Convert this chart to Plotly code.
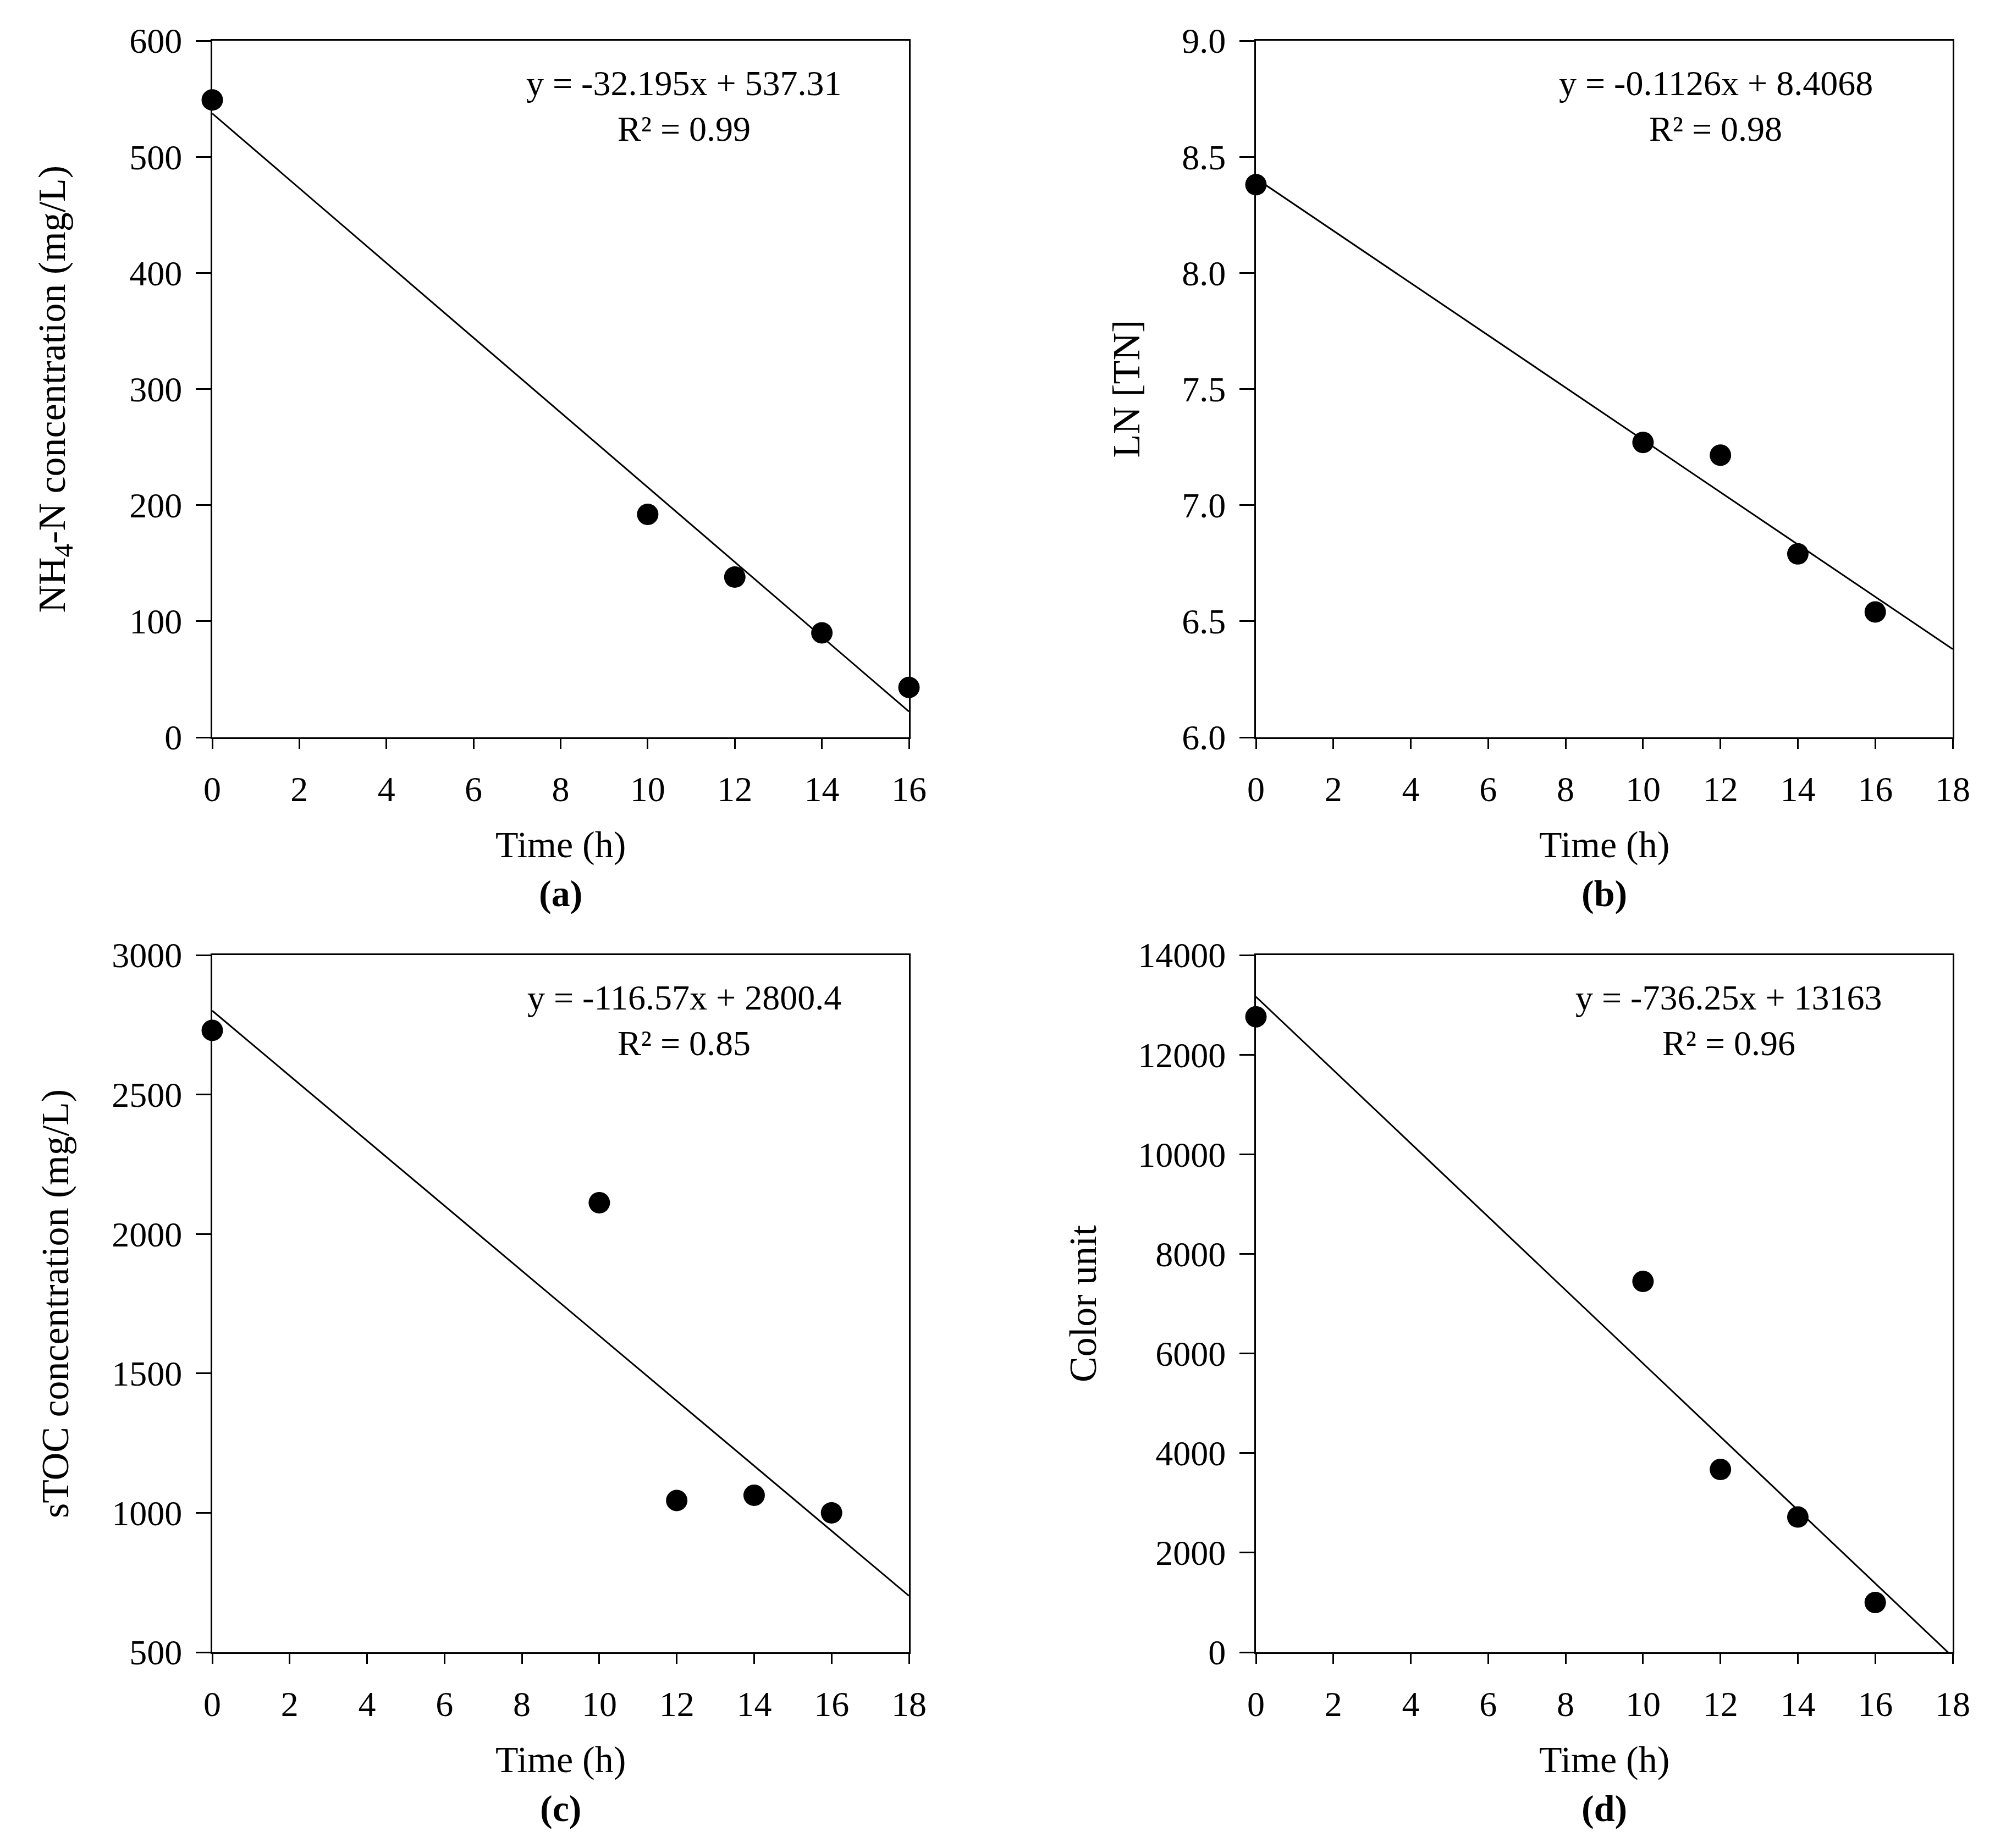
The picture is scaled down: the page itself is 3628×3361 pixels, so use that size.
import plotly.graph_objects as go

# sampling times (h)
time_a = [0, 10, 12, 14, 16]
time_bcd = [0, 10, 12, 14, 16]

nh4_n = [549, 192, 138, 90, 43]
ln_tn = [8.38, 7.27, 7.215, 6.79, 6.54]
stoc = [2730, 2112, 1044, 1063, 1000]
color_unit = [12760, 7447, 3670, 2715, 1000]

# linear trend lines (end points of the fitted lines)
fit_a_x = [0, 16]
fit_a_y = [537.31, 22.19]
fit_b_x = [0, 18]
fit_b_y = [8.4068, 6.38]
fit_c_x = [0, 18]
fit_c_y = [2800.4, 702.14]
fit_d_x = [0, 18]
fit_d_y = [13163, -89.5]

equations = ["y = -32.195x + 537.31", "y = -0.1126x + 8.4068",
             "y = -116.57x + 2800.4", "y = -736.25x + 13163"]
r_squared = ["R² = 0.99", "R² = 0.98", "R² = 0.85", "R² = 0.96"]
y_titles = ["NH<sub>4</sub>-N concentration (mg/L)", "LN [TN]",
            "sTOC concentration (mg/L)", "Color unit"]
panel_labels = ["(a)", "(b)", "(c)", "(d)"]

W = 3628
H = 3361
PAGE_MARGIN = 8  # default body margin of the html page
FONT = "Palatino Linotype, Book Antiqua, Palatino, P052, Liberation Serif, serif"
FS_NUM = 64
FS_TXT = 68
FS_YTITLE = 70

# plot areas in pixels: left, right, top, bottom
boxes = [
    (386, 1653, 74, 1341),
    (2284, 3551, 74, 1341),
    (386, 1653, 1737, 3005),
    (2284, 3551, 1737, 3005),
]
x_ranges = [[0, 16], [0, 18], [0, 18], [0, 18]]
y_ranges = [[0, 600], [6, 9], [500, 3000], [0, 14000]]
y_dticks = [100, 0.5, 500, 2000]
y_formats = ["d", ".1f", "d", "d"]
y_title_x = [100, 2048, 100, 1969]
eq_x = [1244, 3120, 1244, 3144]

series = [
    (time_a, nh4_n, fit_a_x, fit_a_y),
    (time_bcd, ln_tn, fit_b_x, fit_b_y),
    (time_bcd, stoc, fit_c_x, fit_c_y),
    (time_bcd, color_unit, fit_d_x, fit_d_y),
]


def px_x(v):
    return (v - PAGE_MARGIN) / W


def px_y(v):
    return 1 - (v - PAGE_MARGIN) / H


def axis_style(ticklen):
    return dict(
        showgrid=False, zeroline=False, showline=True, linecolor="black",
        linewidth=3, mirror=True, ticks="outside", ticklen=ticklen, tickwidth=3,
        tickcolor="black", automargin=False,
        tickfont=dict(family=FONT, size=FS_NUM, color="black"),
    )


def text_note(x, y, text, size=FS_TXT, angle=0):
    return dict(x=px_x(x), y=px_y(y), xref="paper", yref="paper", text=text,
                textangle=angle, showarrow=False, xanchor="center", yanchor="middle",
                font=dict(family=FONT, size=size, color="black"))


fig = go.Figure()
annotations = []
layout = dict(
    template="none",
    width=W, height=H, margin=dict(l=0, r=0, t=0, b=0, pad=0, autoexpand=False),
    plot_bgcolor="white", paper_bgcolor="white", showlegend=False,
    font=dict(family=FONT, size=FS_TXT, color="black"),
)

for i in range(4):
    n = "" if i == 0 else str(i + 1)
    xa = "x" + n
    ya = "y" + n
    left, right, top, bottom = boxes[i]
    xs, ys, fx, fy = series[i]

    fig.add_trace(go.Scatter(x=fx, y=fy, mode="lines", xaxis=xa, yaxis=ya,
                             line=dict(color="black", width=3)))
    fig.add_trace(go.Scatter(x=xs, y=ys, mode="markers", xaxis=xa, yaxis=ya,
                             cliponaxis=False,
                             marker=dict(color="black", size=39, line=dict(width=0))))

    xaxis = axis_style(18)
    xaxis.update(domain=[px_x(left), px_x(right)], range=x_ranges[i],
                 dtick=2, tick0=0, anchor=ya, ticklabelstandoff=18)
    yaxis = axis_style(27)
    yaxis.update(domain=[px_y(bottom), px_y(top)], range=y_ranges[i],
                 dtick=y_dticks[i], tick0=0, tickformat=y_formats[i], anchor=xa,
                 ticklabelstandoff=12)
    layout["xaxis" + n] = xaxis
    layout["yaxis" + n] = yaxis

    cx = (left + right) / 2
    annotations.append(text_note(cx, bottom + 195, "Time (h)"))
    annotations.append(text_note(cx, bottom + 284, "<b>" + panel_labels[i] + "</b>"))
    annotations.append(text_note(y_title_x[i], (top + bottom) / 2, y_titles[i],
                                 size=FS_YTITLE, angle=-90))
    annotations.append(text_note(eq_x[i], top + 78, equations[i], size=FS_NUM))
    annotations.append(text_note(eq_x[i], top + 160, r_squared[i], size=FS_NUM))

layout["annotations"] = annotations
fig.update_layout(**layout)
fig.write_html("out.html")
